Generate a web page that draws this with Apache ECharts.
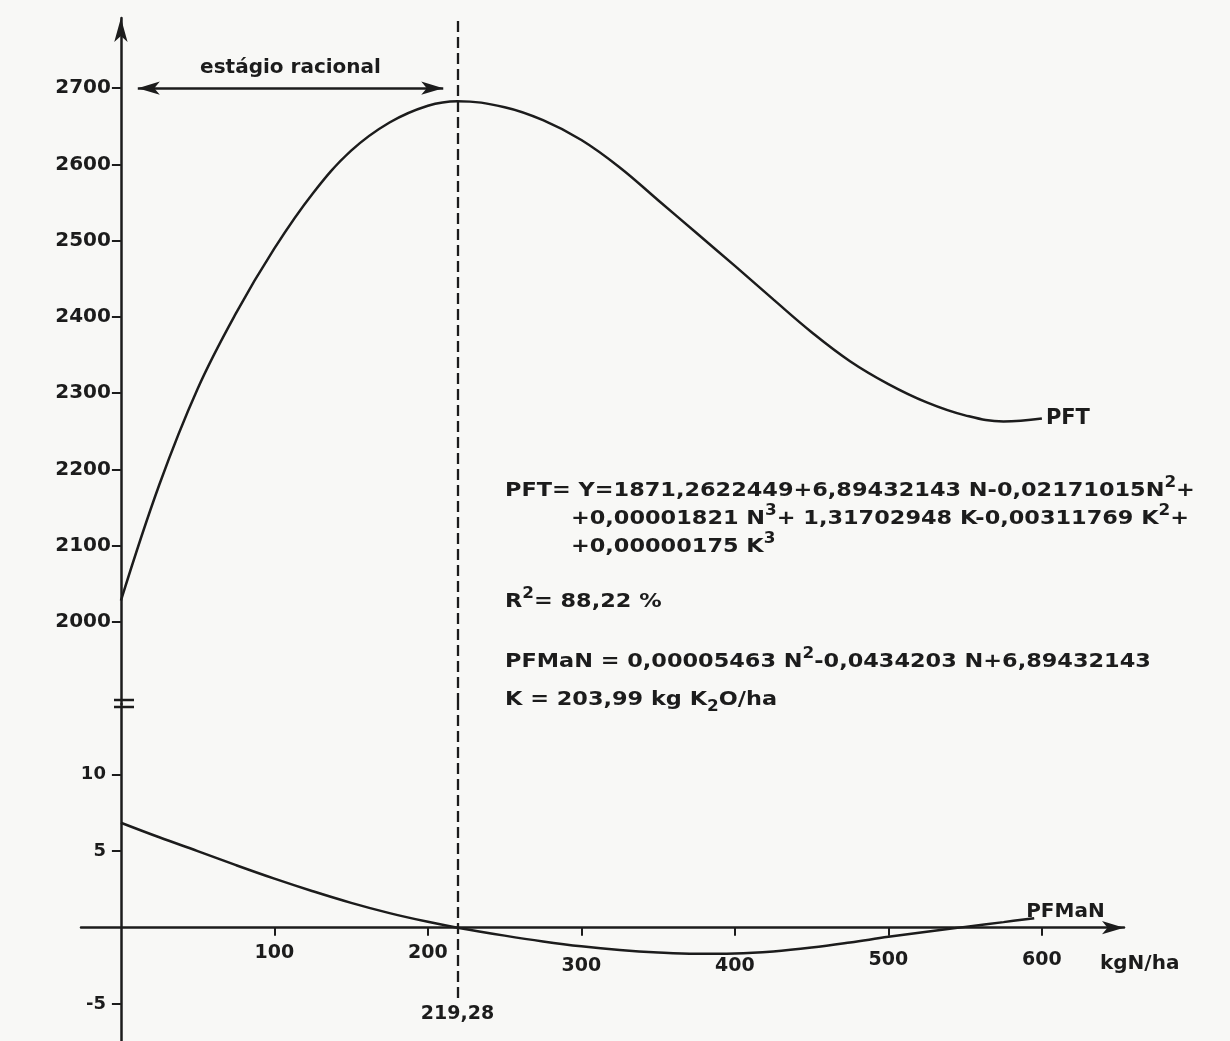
<!DOCTYPE html>
<html lang="pt">
<head>
    <meta charset="UTF-8">
    <title>PFT e PFMaN em função da dose de N</title>
    <script src="https://cdn.jsdelivr.net/npm/echarts@6/dist/echarts.min.js"></script>
    <style>
        html, body { margin: 0; padding: 0; background: #f8f8f6; }
        #main { width: 1230px; height: 1041px; }
    </style>
</head>
<body>
<div id="main"></div>
<script>
    // dose de N (kg N/ha) e produção física total (PFT)
    const nPft = [0, 25, 50, 75, 100, 125, 150, 175, 200, 219.28, 250, 275, 300, 325, 350, 375, 400, 425, 450, 475, 500, 525, 550, 575, 600];
    const pft = [2028, 2180, 2306, 2405, 2490, 2562, 2618, 2655, 2677, 2683, 2675, 2658, 2632, 2596, 2553, 2510, 2467, 2423, 2380, 2342, 2312, 2288, 2271, 2263, 2267];

    // produto físico marginal do N (PFMaN)
    const nPfman = [0, 25, 50, 75, 100, 125, 150, 175, 200, 219.28, 250, 275, 300, 325, 350, 375, 400, 425, 450, 475, 500, 525, 550, 575, 595];
    const pfman = [6.85, 5.9, 5.0, 4.08, 3.2, 2.38, 1.62, 0.95, 0.38, 0, -0.52, -0.9, -1.22, -1.46, -1.62, -1.7, -1.68, -1.55, -1.3, -0.97, -0.6, -0.27, 0.05, 0.36, 0.62];

    // rótulos dos eixos
    const xTicks = [100, 200, 300, 400, 500, 600];
    const pftTicks = [2000, 2100, 2200, 2300, 2400, 2500, 2600, 2700];
    const pfmanTicks = [-5, 5, 10];

    // dose ótima e faixa do estágio racional
    const nOtimo = 219.28;
    const estagioRacional = [11, 210];
    const nivelSeta = 2700;

    const ink = '#1c1c1c';
    const font = 'DejaVu Sans';
    const axisLine = { color: ink, width: 2.5 };

    // layout (px) e escalas
    const H = 1041;
    const gridL = 81, gridR = 1124, topY = 18, breakY = 704;
    const xMin = -26, xMax = 653.5;
    const pftMin = 1892.5, pftMax = 2792;
    const pfmanMin = -7.4, pfmanMax = 14.6;
    // eixos passam pelo zero, deslocados a partir da borda do grid
    const yOffset = -(0 - xMin) * (gridR - gridL) / (xMax - xMin);
    const xOffset = -(0 - pfmanMin) * (H - breakY) / (pfmanMax - pfmanMin);

    const chart = echarts.init(document.getElementById('main'));

    const labelText = { color: ink, fontFamily: font, fontWeight: 'bold' };
    const virgula = v => String(v).replace('.', ',');

    // no original, os rótulos 300-600 ficam um pouco mais baixos
    function xLabel(v) {
        if (v === 300 || v === 400) return '{lo|' + v + '}';
        if (v >= 500) return '{mid|' + v + '}';
        return String(v);
    }

    // equações (texto com sobrescritos)
    const rich = {
        s: { fontSize: 15, lineHeight: 16, verticalAlign: 'top', fontFamily: font, fontWeight: 'bold', fill: ink },
        d: { fontSize: 15, lineHeight: 16, verticalAlign: 'bottom', fontFamily: font, fontWeight: 'bold', fill: ink }
    };
    function eq(x, y, text) {
        return {
            type: 'text', x: x, y: y, scaleX: 1.12,
            style: {
                text: text, rich: rich, fill: ink, fontFamily: font, fontWeight: 'bold',
                fontSize: 20, lineHeight: 30, verticalAlign: 'middle'
            }
        };
    }

    const option = {
        animation: false,
        backgroundColor: '#f8f8f6',
        grid: [
            { left: gridL, right: 1230 - gridR, top: topY, bottom: H - breakY, outerBoundsMode: 'none', containLabel: false },
            { left: gridL, right: 1230 - gridR, top: breakY, bottom: 0, outerBoundsMode: 'none', containLabel: false }
        ],
        xAxis: [
            { gridIndex: 0, type: 'value', min: xMin, max: xMax, show: false },
            {
                gridIndex: 1, type: 'value', min: xMin, max: xMax, position: 'bottom', offset: xOffset,
                axisLine: { onZero: false, symbol: ['none', 'arrow'], symbolSize: [10, 22], lineStyle: axisLine },
                axisTick: { show: true, customValues: xTicks, length: 8, lineStyle: { color: ink, width: 2 } },
                axisLabel: Object.assign({
                    customValues: xTicks, margin: 16, fontSize: 19, formatter: xLabel,
                    rich: { lo: { padding: [13, 0, 0, 0] }, mid: { padding: [7, 0, 0, 0] } }
                }, labelText),
                splitLine: { show: false },
                name: 'kgN/ha', nameLocation: 'end', nameGap: -24,
                nameTextStyle: Object.assign({ fontSize: 20, align: 'left', verticalAlign: 'top', padding: [26, 0, 0, 0] }, labelText)
            }
        ],
        yAxis: [
            {
                gridIndex: 0, type: 'value', min: pftMin, max: pftMax, position: 'left', offset: yOffset,
                axisLine: { show: true, onZero: false, symbol: ['none', 'arrow'], symbolSize: [10, 24], lineStyle: axisLine },
                axisTick: { show: true, customValues: pftTicks, length: 9, lineStyle: { color: ink, width: 2 } },
                axisLabel: Object.assign({ customValues: pftTicks, margin: 10, fontSize: 20, formatter: v => String(v) }, labelText),
                splitLine: { show: false }
            },
            {
                gridIndex: 1, type: 'value', min: pfmanMin, max: pfmanMax, position: 'left', offset: yOffset,
                axisLine: { show: true, onZero: false, lineStyle: axisLine },
                axisTick: { show: true, customValues: pfmanTicks, length: 9, lineStyle: { color: ink, width: 2 } },
                axisLabel: Object.assign({ customValues: pfmanTicks, margin: 15, fontSize: 18, formatter: v => String(v) }, labelText),
                splitLine: { show: false }
            }
        ],
        series: [
            {
                name: 'PFT', type: 'line', xAxisIndex: 0, yAxisIndex: 0,
                data: nPft.map((n, i) => [n, pft[i]]),
                smooth: 0.4, showSymbol: false, silent: true,
                lineStyle: { color: ink, width: 2.5 },
                markLine: {
                    silent: true, animation: false,
                    label: { show: false },
                    data: [
                        [
                            { coord: [nOtimo, pftMin], symbol: 'none', lineStyle: { color: ink, width: 2.3, type: [11, 5] } },
                            { coord: [nOtimo, pftMax], symbol: 'none' }
                        ],
                        [
                            {
                                coord: [estagioRacional[0], nivelSeta], symbol: 'arrow', symbolSize: [10, 22],
                                lineStyle: { color: ink, width: 2.5, type: 'solid' },
                                label: Object.assign({ show: true, position: 'insideMiddleTop', distance: 10, fontSize: 20, formatter: 'estágio racional' }, labelText)
                            },
                            { coord: [estagioRacional[1], nivelSeta], symbol: 'arrow', symbolSize: [10, 22] }
                        ]
                    ]
                },
                markPoint: {
                    silent: true, symbol: 'circle', symbolSize: 0,
                    data: [{ coord: [nPft[nPft.length - 1], pft[pft.length - 1]] }],
                    label: Object.assign({ show: true, position: 'right', distance: 4, fontSize: 21, formatter: 'PFT' }, labelText)
                }
            },
            {
                name: 'PFMaN', type: 'line', xAxisIndex: 1, yAxisIndex: 1,
                data: nPfman.map((n, i) => [n, pfman[i]]),
                smooth: 0.4, showSymbol: false, silent: true,
                lineStyle: { color: ink, width: 2.5 },
                markLine: {
                    silent: true, animation: false,
                    data: [
                        [
                            {
                                coord: [nOtimo, -4.6], symbol: 'none',
                                lineStyle: { color: ink, width: 2.3, type: [11, 5] },
                                label: Object.assign({ show: true, position: 'start', distance: 6, fontSize: 19, formatter: virgula(nOtimo) }, labelText)
                            },
                            { coord: [nOtimo, pfmanMax], symbol: 'none' }
                        ]
                    ]
                },
                markPoint: {
                    silent: true, symbol: 'circle', symbolSize: 0,
                    data: [{ coord: [nPfman[nPfman.length - 1], pfman[pfman.length - 1]] }],
                    label: Object.assign({ show: true, position: 'right', distance: 0, offset: [-8, -6], fontSize: 20, formatter: 'PFMaN' }, labelText)
                }
            }
        ],
        graphic: [
            // quebra do eixo y
            { type: 'line', shape: { x1: 114, y1: 700, x2: 134, y2: 700 }, style: { stroke: ink, lineWidth: 2.5 } },
            { type: 'line', shape: { x1: 114, y1: 707, x2: 134, y2: 707 }, style: { stroke: ink, lineWidth: 2.5 } },
            eq(505, 491, 'PFT= Y=1871,2622449+6,89432143 N-0,02171015N{s|2}+'),
            eq(571, 519, '+0,00001821 N{s|3}+ 1,31702948 K-0,00311769 K{s|2}+'),
            eq(571, 547, '+0,00000175 K{s|3}'),
            eq(505, 602, 'R{s|2}= 88,22 %'),
            eq(505, 662, 'PFMaN = 0,00005463 N{s|2}-0,0434203 N+6,89432143'),
            eq(505, 700, 'K = 203,99 kg K{d|2}O/ha')
        ]
    };

    chart.setOption(option);
</script>
</body>
</html>
